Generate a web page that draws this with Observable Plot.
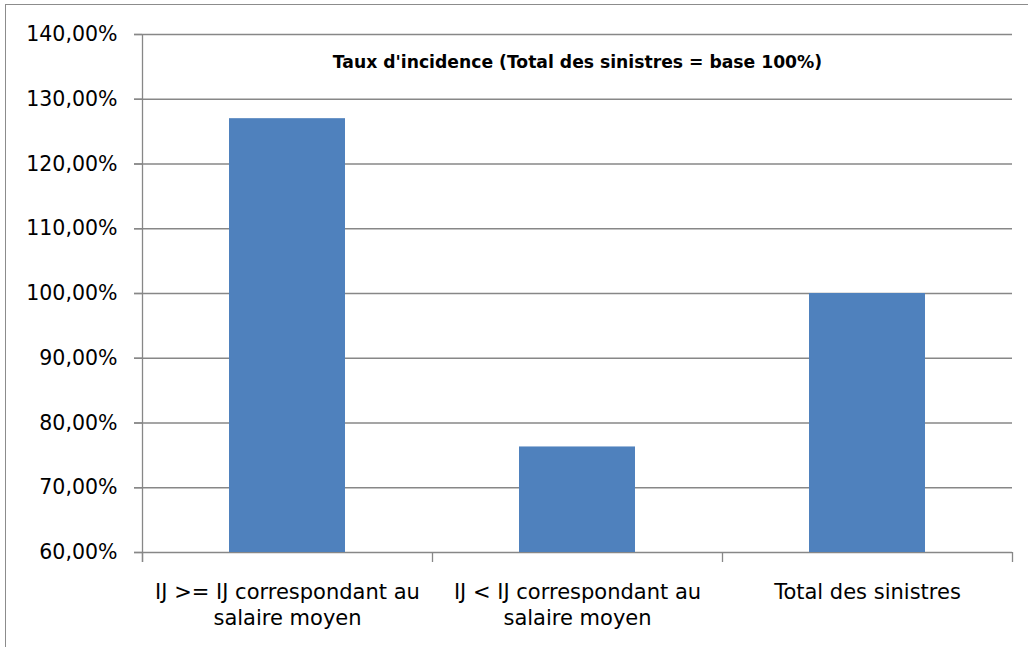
<!DOCTYPE html>
<html>
<head>
<meta charset="utf-8">
<script src="https://cdn.jsdelivr.net/npm/d3@7"></script>
<script src="https://cdn.jsdelivr.net/npm/@observablehq/plot@0.6"></script>
<style>
  html, body { margin: 0; padding: 0; background: #fff; }
  #wrap { position: relative; width: 1028px; height: 647px; overflow: hidden; }
  #border { position: absolute; left: 5px; top: 4px; width: 1100px; height: 700px;
            border-left: 1.5px solid #8c8c8c; border-top: 1.5px solid #8c8c8c; pointer-events: none; }
  svg { font-family: "DejaVu Sans", sans-serif; }
</style>
</head>
<body>
<div id="wrap"><div id="border"></div></div>
<script>
const categories = [
  "IJ >= IJ correspondant au salaire moyen",
  "IJ < IJ correspondant au salaire moyen",
  "Total des sinistres"
];
const tickLabels = [
  "IJ >= IJ correspondant au\nsalaire moyen",
  "IJ < IJ correspondant au\nsalaire moyen",
  "Total des sinistres"
];
const values = [127.0, 76.3, 100.0];
const yTicks = [60, 70, 80, 90, 100, 110, 120, 130, 140];
const title = "Taux d'incidence (Total des sinistres = base 100%)";

const data = categories.map((c, i) => ({category: c, value: values[i], label: tickLabels[i]}));

const W = 1028, H = 647;
const mL = 142, mR = 16, mT = 34, mB = 95;
const step = (W - mL - mR) / categories.length;
const grid = "#878787";
const fmt = d => d.toFixed(2).replace(".", ",") + "%";

const chart = Plot.plot({
  width: W,
  height: H,
  marginLeft: mL,
  marginRight: mR,
  marginTop: mT,
  marginBottom: mB,
  style: {fontFamily: "DejaVu Sans, sans-serif", background: "transparent", overflow: "visible"},
  x: {domain: categories, padding: 0, axis: null},
  y: {domain: [60, 140], axis: null},
  marks: [
    Plot.gridY(yTicks, {stroke: grid, strokeOpacity: 1, strokeWidth: 1.3, insetLeft: -8}),
    Plot.axisY(yTicks, {label: null, tickSize: 8, tickPadding: 17, tickFormat: fmt, fontSize: 20.5, stroke: grid, strokeWidth: 1.3, fill: "#000"}),
    Plot.barY(data, {x: "category", y1: 60, y2: "value", fill: "#4F81BD", insetLeft: step * 0.3, insetRight: step * 0.3}),
    Plot.ruleX([categories[0]], {x: d => d, dx: -step / 2, stroke: grid, strokeWidth: 1.3, insetBottom: -10}),
    Plot.ruleX(categories, {x: d => d, dx: -step / 2, y1: 60, y2: 60, stroke: grid, strokeWidth: 1.3, insetBottom: -10}),
    Plot.ruleX([categories[categories.length - 1]], {x: d => d, dx: step / 2, y1: 60, y2: 60, stroke: grid, strokeWidth: 1.3, insetBottom: -10}),
    Plot.text(data, {x: "category", y: 60, text: "label", dy: 28, lineAnchor: "top", lineHeight: 1.24, fontSize: 21, fill: "#000"}),
    Plot.text([title], {frameAnchor: "top", text: d => d, dy: 28, lineAnchor: "middle", fontSize: 17.2, fontWeight: "bold", fill: "#000"})
  ]
});
document.getElementById("wrap").prepend(chart);
</script>
</body>
</html>
